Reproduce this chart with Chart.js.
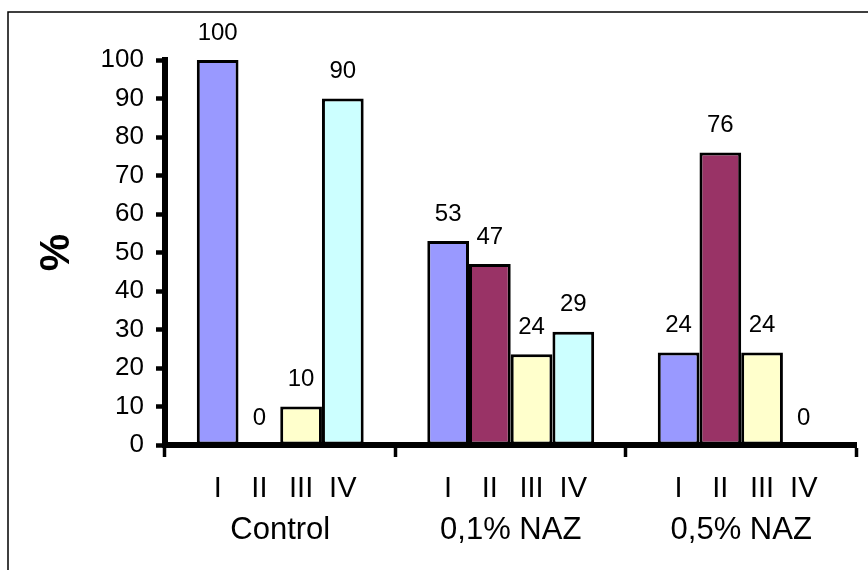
<!DOCTYPE html>
<html>
<head>
<meta charset="utf-8">
<script src="https://cdn.jsdelivr.net/npm/chart.js@4.4.1/dist/chart.umd.min.js"></script>
<style>
  html, body { margin: 0; padding: 0; background: #fff; }
  #wrap { width: 868px; height: 570px; position: relative; }
</style>
</head>
<body>
<div id="wrap"><canvas id="nazChart" width="868" height="570"></canvas></div>
<script>
// Groups on the x axis.
var groups = ['Control', '0,1% NAZ', '0,5% NAZ'];

// Series names (shown under each bar).
var seriesNames = ['I', 'II', 'III', 'IV'];

// Values per series, one per group (%).
var seriesI = [100, 53, 24];
var seriesII = [0, 47, 76];
var seriesIII = [10, 23.6, 24];
var seriesIV = [90, 29.4, 0];

// Y axis tick values.
var yTicks = [0, 10, 20, 30, 40, 50, 60, 70, 80, 90, 100];

var seriesColors = ['#9999FF', '#993366', '#FFFFCC', '#CCFFFF'];
var fontFamily = "'Liberation Sans', Arial, sans-serif";

// Thin frame round the chart (only top and left show in the picture).
var framePlugin = {
    id: 'frame',
    beforeDraw: function (chart) {
        var ctx = chart.ctx;
        ctx.save();
        ctx.strokeStyle = '#000';
        ctx.lineWidth = 1.5;
        ctx.beginPath();
        ctx.moveTo(8, 570);
        ctx.lineTo(8, 12);
        ctx.lineTo(868, 12);
        ctx.stroke();
        ctx.restore();
    }
};

// Value above each bar and series name under each bar.
var labelPlugin = {
    id: 'barLabels',
    afterDraw: function (chart) {
        var ctx = chart.ctx;
        var bottom = chart.chartArea.bottom;
        ctx.save();
        ctx.fillStyle = '#000';
        ctx.textAlign = 'center';
        ctx.textBaseline = 'middle';
        chart.data.datasets.forEach(function (dataset, di) {
            var meta = chart.getDatasetMeta(di);
            meta.data.forEach(function (bar, i) {
                ctx.font = '24px ' + fontFamily;
                ctx.fillText(String(Math.round(dataset.data[i])), bar.x, bar.y - 27);
                ctx.font = '29px ' + fontFamily;
                ctx.fillText(seriesNames[di], bar.x, bottom + 44);
            });
        });
        ctx.restore();
    }
};

var datasets = [seriesI, seriesII, seriesIII, seriesIV].map(function (values, i) {
    return {
        label: seriesNames[i],
        data: values,
        backgroundColor: seriesColors[i],
        borderColor: '#000',
        borderWidth: 3,
        borderSkipped: false,
        categoryPercentage: 0.724,
        barPercentage: 1.0
    };
});

var ctx = document.getElementById('nazChart').getContext('2d');
var chart = new Chart(ctx, {
    type: 'bar',
    data: { labels: groups, datasets: datasets },
    options: {
        responsive: false,
        animation: false,
        devicePixelRatio: 1,
        layout: { padding: { left: 0, right: 7, top: 60, bottom: 0 } },
        plugins: {
            legend: { display: false },
            tooltip: { enabled: false }
        },
        scales: {
            x: {
                z: 1,
                grid: {
                    offset: true,
                    drawOnChartArea: false,
                    color: '#000',
                    tickLength: 12,
                    tickWidth: 3.5
                },
                border: { color: '#000', width: 6 },
                ticks: {
                    color: '#000',
                    padding: 55,
                    font: { family: fontFamily, size: 31 }
                },
                afterFit: function (scale) { scale.height = 125; }
            },
            y: {
                z: 1,
                min: 0,
                max: 100,
                afterBuildTicks: function (scale) {
                    scale.ticks = yTicks.map(function (v) { return { value: v }; });
                },
                grid: {
                    drawOnChartArea: false,
                    color: '#000',
                    tickLength: 9,
                    tickWidth: 4.5
                },
                border: { color: '#000', width: 6 },
                ticks: {
                    color: '#000',
                    padding: 12,
                    font: { family: fontFamily, size: 26 }
                },
                title: {
                    display: true,
                    text: '%',
                    color: '#000',
                    padding: { top: 32, bottom: 0 },
                    font: { family: fontFamily, size: 42, weight: 'bold' }
                },
                afterFit: function (scale) { scale.width = 165; }
            }
        }
    },
    plugins: [framePlugin, labelPlugin]
});
</script>
</body>
</html>
